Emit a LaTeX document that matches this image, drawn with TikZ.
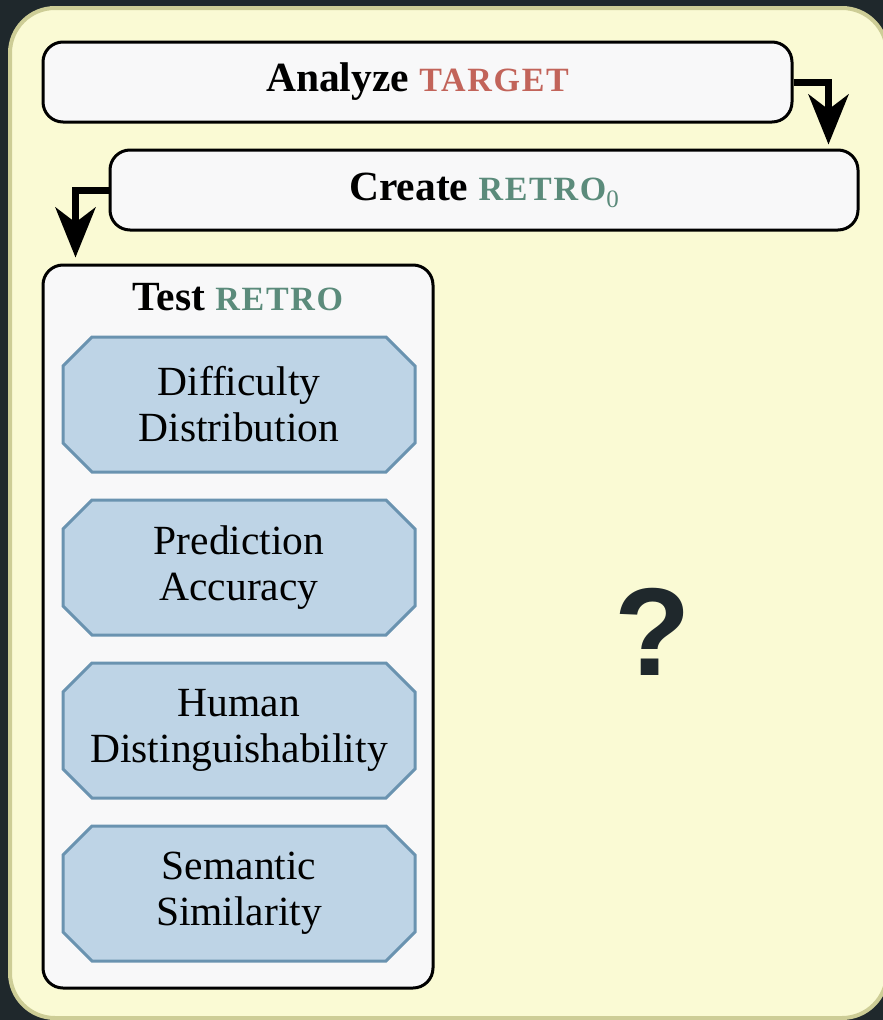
\documentclass[tikz,border=0pt]{standalone}
\usepackage{fontspec}
\setmainfont{Liberation Serif}
\newfontfamily\markfont{Liberation Sans}
\usetikzlibrary{arrows.meta}

\definecolor{pagedark}{HTML}{1F282C}
\definecolor{panelfill}{HTML}{FAFAD4}
\definecolor{paneledge}{HTML}{CDCD96}
\definecolor{boxfill}{HTML}{F8F8F9}
\definecolor{metricfill}{HTML}{BED4E6}
\definecolor{metricedge}{HTML}{6A93B0}
\definecolor{targetred}{HTML}{C2645A}
\definecolor{retroteal}{HTML}{5B8B7B}
\definecolor{markdark}{HTML}{1F282C}

% small bold capitals used for the object names
\newcommand\objname[2]{{\color{#1}\fontsize{34}{40}\selectfont\addfontfeature{LetterSpace=5}#2}}
\newcommand\objsub[1]{\raisebox{-7pt}{\color{retroteal}\fontsize{25}{25}\selectfont\mdseries #1}}

% octagonal check box: name, centre y, text
\newcommand\metricbox[3]{%
  \draw[metricshape] (63,#2-38.5) -- (92,#2-67.5) -- (386,#2-67.5) -- (415,#2-38.5)
    -- (415,#2+38.5) -- (386,#2+67.5) -- (92,#2+67.5) -- (63,#2+38.5) -- cycle;
  \node[metric] (#1) at (239,#2) {#3};}

\begin{document}
\begin{tikzpicture}[x=1pt,y=-1pt,
  stepbox/.style={draw=black, line width=3pt, fill=boxfill, rounded corners=20pt,
    inner sep=0pt, font=\fontsize{41.5}{46}\selectfont\bfseries},
  metricshape/.style={draw=metricedge, fill=metricfill, line width=3pt},
  metric/.style={inner sep=0pt, align=center, font=\fontsize{41.5}{46}\selectfont},
  flow/.style={draw=black, line width=7pt, miter limit=10,
    -{Stealth[length=50pt, width=40pt, inset=15pt]}}
]
% page and outer panel
\useasboundingbox (0,0) rectangle (883,1020);
\fill[pagedark] (0,0) rectangle (883,1020);
\begin{scope}
  \clip (0,0) rectangle (883,1020);
  \draw[fill=panelfill, draw=paneledge, line width=4pt, rounded corners=45pt]
    (10,8) rectangle (887,1018);
\end{scope}

% steps
\node[stepbox, minimum width=749pt, minimum height=80pt] (analyze) at (417.5,82)
  {Analyze \objname{targetred}{TARGET}};
\node[stepbox, minimum width=748pt, minimum height=80pt] (create) at (484,190)
  {Create \objname{retroteal}{RETRO}\objsub{0}};
\node[stepbox, minimum width=390pt, minimum height=723pt] (test) at (238,626.5) {};
\node[font=\fontsize{41.5}{46}\selectfont\bfseries] (testtitle) at (238,297)
  {Test \objname{retroteal}{RETRO}};

% checks run on the created object
\metricbox{difficulty}{404.5}{Difficulty\\Distribution}
\metricbox{accuracy}{567.5}{Prediction\\Accuracy}
\metricbox{human}{730.5}{Human\\Distinguishability}
\metricbox{semantic}{893.5}{Semantic\\Similarity}

% open question
\node[text=markdark, font=\markfont\bfseries\fontsize{125}{125}\selectfont] (unknown)
  at (653,632) {?};

% flow between steps
\draw[flow, shorten >=4pt] (analyze.east) -| ([xshift=-31pt]create.north east);
\draw[flow, shorten >=6pt] (create.west) -| ([xshift=34pt]test.north west);
\end{tikzpicture}
\end{document}
